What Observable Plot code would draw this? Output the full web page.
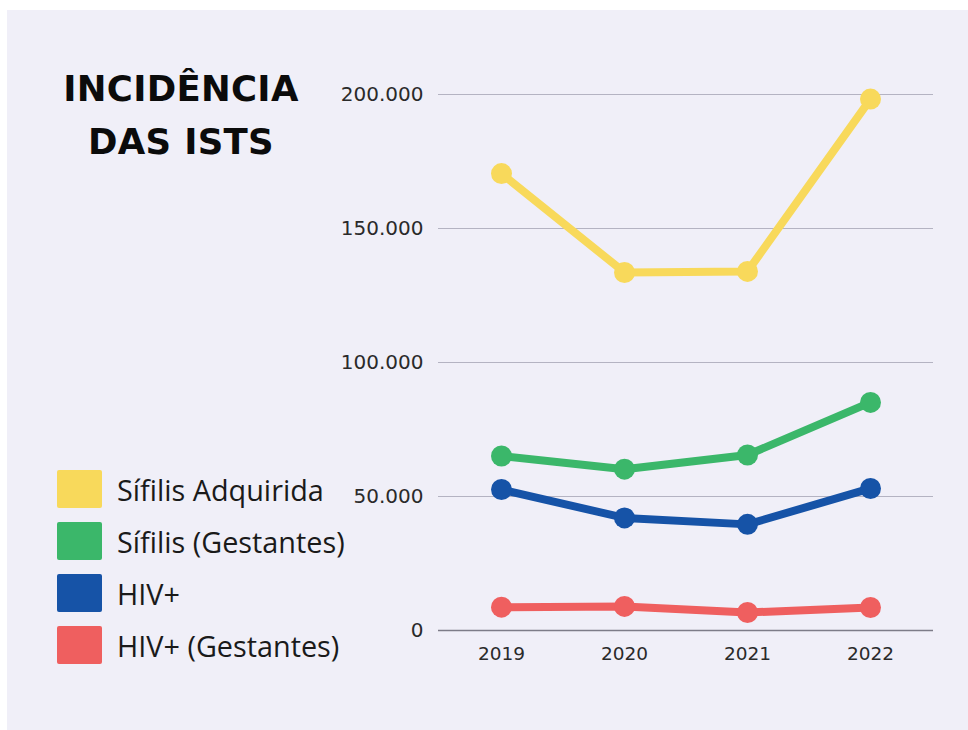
<!DOCTYPE html>
<html>
<head>
<meta charset="utf-8">
<script src="https://cdn.jsdelivr.net/npm/d3@7"></script>
<script src="https://cdn.jsdelivr.net/npm/@observablehq/plot@0.6"></script>
<style>
  html, body { margin: 0; padding: 0; background: #ffffff; }
  #frame { position: absolute; left: 7px; top: 10px; width: 961px; height: 720px; background: #f0eff8; overflow: hidden; }
  #chart { position: absolute; left: 0; top: 0; width: 968px; height: 730px; }
  #title { position: absolute; left: 36px; top: 62px; width: 290px; text-align: center;
    font-family: "DejaVu Sans", sans-serif; font-weight: 700; font-size: 35.5px; line-height: 53px; color: #0b0b0b; letter-spacing: 0.3px; }
  #legend { position: absolute; left: 57px; top: 470px; font-family: "Open Sans", sans-serif; font-size: 28.8px; color: #1a1a1a; }
  .item { display: flex; align-items: center; height: 38px; margin-bottom: 14px; }
  .sw { width: 45px; height: 38px; border-radius: 2px; margin-right: 15px; flex: none; }
</style>
</head>
<body>
<div id="frame"></div>
<div id="chart"></div>
<div id="title">INCIDÊNCIA<br>DAS ISTS</div>
<div id="legend"></div>
<script>
const years = ["2019", "2020", "2021", "2022"];
const seriesNames = ["Sífilis Adquirida", "Sífilis (Gestantes)", "HIV+", "HIV+ (Gestantes)"];
const sifilisAdquirida = [170500, 133600, 134000, 198300];
const sifilisGestantes = [65100, 60200, 65500, 85100];
const hiv = [52600, 42000, 39600, 53000];
const hivGestantes = [8700, 9000, 6700, 8600];
const yTicks = [0, 50000, 100000, 150000, 200000];
const colors = ["#f8d95b", "#3bb76a", "#1653a7", "#ef5f5f"];

const allSeries = [sifilisAdquirida, sifilisGestantes, hiv, hivGestantes];
const data = [];
allSeries.forEach((vals, i) => {
  vals.forEach((v, j) => data.push({ series: seriesNames[i], year: years[j], value: v }));
});

const fmt = d => d3.format(",")(d).replace(/,/g, ".");

const chart = Plot.plot({
  width: 968,
  height: 730,
  marginLeft: 438,
  marginRight: 35,
  marginTop: 94,
  marginBottom: 100,
  style: { background: "transparent", fontFamily: "DejaVu Sans, sans-serif", color: "#2a2a2a" },
  x: { type: "point", domain: years, padding: 0.5, label: null },
  y: { domain: [0, 200000], label: null },
  color: { domain: seriesNames, range: colors },
  marks: [
    Plot.ruleY(yTicks.filter(d => d > 0), { stroke: "#b4b3c2", strokeWidth: 1.2 }),
    Plot.ruleY([0], { stroke: "#7d7c88", strokeWidth: 1.4 }),
    Plot.axisY({ ticks: yTicks, tickFormat: fmt, tickSize: 0, tickPadding: 15, fontSize: 20, label: null }),
    Plot.axisX({ tickSize: 0, tickPadding: 16, fontSize: 18.5, label: null }),
    Plot.line(data, { x: "year", y: "value", z: "series", stroke: "series", strokeWidth: 8, strokeLinejoin: "round" }),
    Plot.dot(data, { x: "year", y: "value", fill: "series", r: 10.5 })
  ]
});
document.getElementById("chart").appendChild(chart);

const legend = document.getElementById("legend");
seriesNames.forEach((name, i) => {
  const item = document.createElement("div");
  item.className = "item";
  const sw = document.createElement("div");
  sw.className = "sw";
  sw.style.background = colors[i];
  const label = document.createElement("span");
  label.textContent = name;
  item.appendChild(sw);
  item.appendChild(label);
  legend.appendChild(item);
});
</script>
</body>
</html>
